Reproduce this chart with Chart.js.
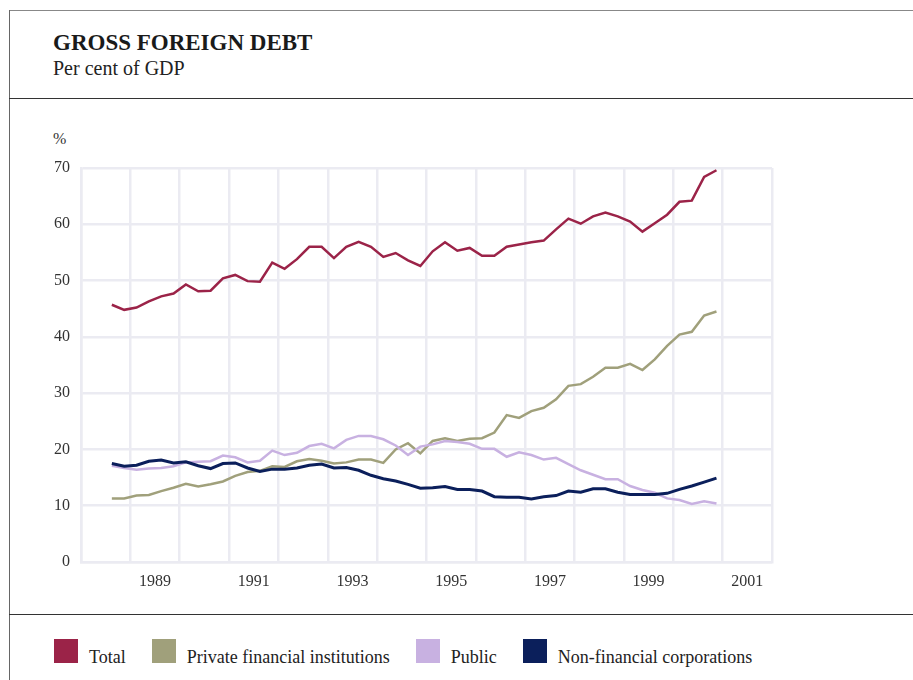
<!DOCTYPE html>
<html>
<head>
<meta charset="utf-8">
<title>Gross foreign debt</title>
<script src="https://cdn.jsdelivr.net/npm/chart.js@4.4.1/dist/chart.umd.min.js"></script>
<style>
  body { margin: 0; background: #fff; font-family: "Liberation Serif", serif; color: #222; }
  .rule { position: absolute; }
  #title { position: absolute; left: 53px; top: 31px; font-size: 23px; line-height: 23px; font-weight: bold; color: #1a1a1a; }
  #subtitle { position: absolute; left: 53px; top: 58px; font-size: 20px; line-height: 20px; color: #222; }
  #unit { position: absolute; left: 53px; top: 131px; font-size: 16px; line-height: 16px; color: #333; }
  #chartBox { position: absolute; left: 0; top: 100px; width: 913px; height: 510px; }
  #legend { position: absolute; left: 54px; top: 639px; display: flex; }
  .item { display: flex; align-items: flex-end; margin-right: 26px; }
  .swatch { width: 24px; height: 24px; margin-right: 11px; }
  .label { font-size: 18px; line-height: 18px; margin-bottom: -3px; color: #222; }
</style>
</head>
<body>
<div class="rule" style="left:9px;top:10px;width:904px;height:1px;background:#888;"></div>
<div class="rule" style="left:9px;top:10px;width:1px;height:670px;background:#666;"></div>
<div class="rule" style="left:9px;top:98px;width:904px;height:1px;background:#333;"></div>
<div class="rule" style="left:9px;top:614px;width:904px;height:1px;background:#333;"></div>

<div id="title">GROSS FOREIGN DEBT</div>
<div id="subtitle">Per cent of GDP</div>
<div id="unit">%</div>
<div id="chartBox"><canvas id="debtChart"></canvas></div>
<div id="legend"></div>

<script>
// quarterly observations, 1988 Q3 to 2000 Q4
const quarters = [
  '1988Q3', '1988Q4',
  '1989Q1', '1989Q2', '1989Q3', '1989Q4',
  '1990Q1', '1990Q2', '1990Q3', '1990Q4',
  '1991Q1', '1991Q2', '1991Q3', '1991Q4',
  '1992Q1', '1992Q2', '1992Q3', '1992Q4',
  '1993Q1', '1993Q2', '1993Q3', '1993Q4',
  '1994Q1', '1994Q2', '1994Q3', '1994Q4',
  '1995Q1', '1995Q2', '1995Q3', '1995Q4',
  '1996Q1', '1996Q2', '1996Q3', '1996Q4',
  '1997Q1', '1997Q2', '1997Q3', '1997Q4',
  '1998Q1', '1998Q2', '1998Q3', '1998Q4',
  '1999Q1', '1999Q2', '1999Q3', '1999Q4',
  '2000Q1', '2000Q2', '2000Q3', '2000Q4'
];

const total = [
  45.7, 44.8,
  45.2, 46.3, 47.2, 47.7,
  49.3, 48.1, 48.2, 50.4,
  51.0, 49.9, 49.8, 53.2,
  52.1, 53.8, 56.0, 56.0,
  54.0, 56.0, 56.9, 56.0,
  54.2, 54.9, 53.6, 52.6,
  55.2, 56.8, 55.3, 55.8,
  54.4, 54.4, 56.0, 56.4,
  56.8, 57.1, 59.1, 61.0,
  60.1, 61.4, 62.1, 61.4,
  60.5, 58.7, 60.2, 61.7,
  64.0, 64.2, 68.4, 69.6
];

const privateFin = [
  11.3, 11.3,
  11.8, 11.9, 12.6, 13.2,
  13.9, 13.4, 13.8, 14.3,
  15.3, 16.0, 16.2, 17.0,
  16.9, 17.9, 18.3, 18.0,
  17.5, 17.7, 18.2, 18.2,
  17.6, 20.0, 21.1, 19.3,
  21.5, 22.0, 21.5, 21.9,
  22.0, 23.0, 26.1, 25.6,
  26.8, 27.4, 28.9, 31.3,
  31.6, 32.9, 34.5, 34.5,
  35.2, 34.1, 36.0, 38.4,
  40.4, 40.9, 43.8, 44.5
];

const publicDebt = [
  17.1, 16.7,
  16.4, 16.6, 16.7, 17.0,
  17.7, 17.8, 17.9, 18.9,
  18.6, 17.7, 18.0, 19.8,
  19.0, 19.4, 20.6, 21.0,
  20.2, 21.7, 22.4, 22.4,
  21.8, 20.7, 19.0, 20.5,
  20.9, 21.5, 21.3, 21.0,
  20.1, 20.1, 18.7, 19.5,
  19.0, 18.2, 18.5, 17.4,
  16.3, 15.5, 14.7, 14.7,
  13.5, 12.8, 12.3, 11.3,
  11.0, 10.3, 10.8, 10.4
];

const nonFinancial = [
  17.5, 17.0,
  17.2, 17.9, 18.1, 17.6,
  17.8, 17.1, 16.6, 17.5,
  17.6, 16.7, 16.1, 16.5,
  16.5, 16.7, 17.2, 17.4,
  16.7, 16.8, 16.3, 15.4,
  14.8, 14.4, 13.8, 13.1,
  13.2, 13.4, 12.9, 12.9,
  12.6, 11.6, 11.5, 11.5,
  11.2, 11.6, 11.8, 12.6,
  12.4, 13.0, 13.0, 12.4,
  12.0, 12.0, 12.0, 12.2,
  12.9, 13.5, 14.2, 14.9
];

const yearLabels = ['1989', '1991', '1993', '1995', '1997', '1999', '2001'];
const yTicks = [0, 10, 20, 30, 40, 50, 60, 70];

const seriesNames = ['Total', 'Private financial institutions', 'Public', 'Non-financial corporations'];
const seriesColors = ['#9b2348', '#a0a07b', '#c8b1e1', '#0b1f5b'];
const seriesValues = [total, privateFin, publicDebt, nonFinancial];

const gridColor = '#ebebf2';
const tickFont = { family: "'Liberation Serif', serif", size: 16 };

// a quarter sits in the middle of its quarter of the year
function quarterPos(q) {
  const year = parseInt(q.slice(0, 4), 10);
  const n = parseInt(q.slice(5), 10);
  return year + (n - 1) / 4 + 0.125;
}

const datasets = seriesValues.map((vals, i) => ({
  label: seriesNames[i],
  data: vals.map((v, j) => ({ x: quarterPos(quarters[j]), y: v })),
  borderColor: seriesColors[i],
  backgroundColor: seriesColors[i],
  borderWidth: i === 3 ? 3 : 2.5,
  pointRadius: 0,
  tension: 0,
  order: i === 0 ? 0 : 4 - i
}));

new Chart(document.getElementById('debtChart'), {
  type: 'line',
  data: { datasets: datasets },
  options: {
    responsive: true,
    maintainAspectRatio: false,
    animation: false,
    layout: { padding: { left: 40, right: 141, top: 68, bottom: 0 } },
    plugins: {
      legend: { display: false },
      tooltip: { enabled: false }
    },
    scales: {
      x: {
        type: 'linear',
        min: 1988,
        max: 2002,
        afterBuildTicks: (scale) => {
          const ticks = [];
          for (let v = scale.min; v <= scale.max; v += 0.5) ticks.push({ value: v });
          scale.ticks = ticks;
        },
        afterFit: (scale) => { scale.height = 48; },
        grid: {
          color: (ctx) => (ctx.tick && Number.isInteger(ctx.tick.value)) ? gridColor : 'rgba(0,0,0,0)',
          lineWidth: 2.5,
          drawTicks: false
        },
        border: { display: true, color: gridColor, width: 2.5 },
        ticks: {
          autoSkip: false,
          maxRotation: 0,
          padding: 10,
          color: '#333',
          font: tickFont,
          callback: (v) => {
            const hit = yearLabels.find((y) => Number(y) + 0.5 === v);
            return hit || '';
          }
        }
      },
      y: {
        min: 0,
        max: 70,
        afterBuildTicks: (scale) => { scale.ticks = yTicks.map((v) => ({ value: v })); },
        afterFit: (scale) => { scale.width = 41; },
        grid: { color: gridColor, lineWidth: 2.5, drawTicks: false },
        border: { display: true, color: gridColor, width: 2.5 },
        ticks: { padding: 11, color: '#333', font: tickFont }
      }
    }
  }
});

// legend built from the same names and colours
const legend = document.getElementById('legend');
seriesNames.forEach((name, i) => {
  const item = document.createElement('div');
  item.className = 'item';
  const sw = document.createElement('div');
  sw.className = 'swatch';
  sw.style.background = seriesColors[i];
  const lab = document.createElement('span');
  lab.className = 'label';
  lab.textContent = name;
  item.appendChild(sw);
  item.appendChild(lab);
  legend.appendChild(item);
});
</script>
</body>
</html>
